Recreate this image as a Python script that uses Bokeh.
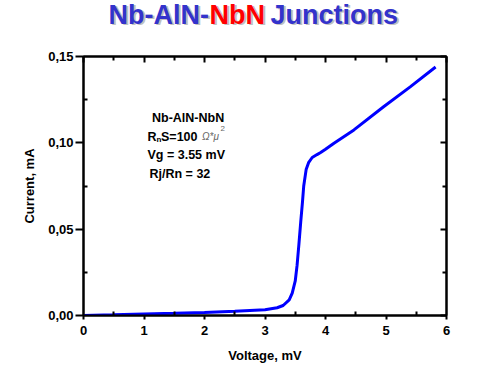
from bokeh.plotting import figure
from bokeh.layouts import column
from bokeh.models import (Range1d, LinearAxis, FixedTicker, CustomJSTickFormatter, Label)
from bokeh.embed import file_html
from bokeh.resources import INLINE

# ---- data ----
voltage = [0, 0.5, 1.0, 1.5, 2.0, 2.5, 3.0, 3.2, 3.3, 3.4, 3.45, 3.5, 3.53, 3.56,
           3.59, 3.62, 3.64, 3.68, 3.72, 3.78, 3.86, 3.92, 4.0, 4.14, 4.47, 4.96, 5.4, 5.82]
current = [0, 0.0004, 0.0009, 0.0013, 0.0018, 0.0024, 0.0033, 0.0045, 0.0058, 0.009,
           0.013, 0.02, 0.029, 0.041, 0.054, 0.066, 0.075, 0.0845, 0.0885, 0.0915,
           0.0932, 0.0944, 0.0963, 0.0998, 0.1075, 0.1209, 0.1324, 0.1439]
x_ticks = [0, 1, 2, 3, 4, 5, 6]
x_minor = [0.5, 1.5, 2.5, 3.5, 4.5, 5.5]
y_ticks = [0, 0.05, 0.10, 0.15]
y_minor = [0.025, 0.075, 0.125]
title_parts = ["Nb-AlN-", "NbN", "Junctions"]
info_lines = ["Nb-AlN-NbN", "Vg = 3.55 mV", "Rj/Rn = 32"]

FONT = "Liberation Sans"
W = 495
L, R = 83, 446

# ---- title strip (x in page pixels) ----
t = figure(width=W, height=48, output_backend="svg", toolbar_location=None,
           x_range=Range1d(L, R), y_range=Range1d(48, 0),
           min_border_left=L, min_border_right=W - R, min_border_top=0, min_border_bottom=0,
           outline_line_color=None)
t.axis.visible = False
t.grid.visible = False
title_x = [108, 209, 270]
title_colors = ["#3333cc", "#ff0000", "#3333cc"]
for txt, x0, col in zip(title_parts, title_x, title_colors):
    t.add_layout(Label(x=x0 + 2, y=15.5, text=txt, text_font=FONT,
                       text_font_style="bold", text_font_size="27px",
                       text_color="#c0c0c0", text_baseline="alphabetic"))
    t.add_layout(Label(x=x0, y=14, text=txt, text_font=FONT,
                       text_font_style="bold", text_font_size="27px",
                       text_color=col, text_baseline="alphabetic"))

# ---- main plot ----
p = figure(width=W, height=365 - 48, output_backend="svg", toolbar_location=None,
           x_range=Range1d(0, 6), y_range=Range1d(0, 0.15),
           min_border_left=L, min_border_right=W - R, min_border_top=8, min_border_bottom=48,
           x_axis_label="Voltage, mV", y_axis_label="Current, mA")
p.xgrid.visible = False
p.ygrid.visible = False
p.outline_line_color = "black"
p.outline_line_width = 2

p.line(voltage, current, line_color="#0000ff", line_width=3)

p.xaxis.ticker = FixedTicker(ticks=x_ticks, minor_ticks=x_minor)
p.yaxis.ticker = FixedTicker(ticks=y_ticks, minor_ticks=y_minor)
p.yaxis.formatter = CustomJSTickFormatter(code="return tick.toFixed(2).replace('.', ',');")
p.xaxis.formatter = CustomJSTickFormatter(code="return tick.toFixed(0);")

for ax in (p.xaxis[0], p.yaxis[0]):
    ax.axis_line_width = 2
    ax.axis_line_color = "black"
    ax.major_tick_line_width = 2
    ax.minor_tick_line_width = 2
    ax.major_tick_line_color = "black"
    ax.minor_tick_line_color = "black"
    ax.major_tick_in = 0
    ax.minor_tick_in = 4
    ax.minor_tick_out = 0
    ax.major_label_text_font = FONT
    ax.major_label_text_font_style = "bold"
    ax.major_label_text_font_size = "13px"
    ax.major_label_text_color = "black"
    ax.axis_label_text_font = FONT
    ax.axis_label_text_font_style = "bold"
    ax.axis_label_text_font_size = "13px"
    ax.axis_label_text_color = "black"
p.xaxis.major_tick_out = 4
p.xaxis.major_label_standoff = 6
p.yaxis.major_tick_out = 8
p.yaxis.major_label_standoff = 2
p.xaxis.axis_label_standoff = 10
p.yaxis.axis_label_standoff = 8

top = LinearAxis(ticker=FixedTicker(ticks=x_ticks, minor_ticks=x_minor))
right = LinearAxis(ticker=FixedTicker(ticks=y_ticks, minor_ticks=y_minor))
for ax in (top, right):
    ax.axis_line_width = 2
    ax.major_tick_line_width = 2
    ax.minor_tick_line_width = 2
    ax.major_tick_line_color = "black"
    ax.minor_tick_line_color = "black"
    ax.major_tick_in = 6
    ax.major_tick_out = 0
    ax.minor_tick_in = 4
    ax.minor_tick_out = 0
    ax.major_label_text_font_size = "0px"
    ax.major_label_text_alpha = 0
    ax.major_label_standoff = 0
p.add_layout(top, "above")
p.add_layout(right, "right")


def px(x):
    return (x - 83) / 60.5


def py(y):
    return (317 - y) / 1740


def lab(txt, x, y, size="12.5px", style="bold", color="black"):
    p.add_layout(Label(x=px(x), y=py(y), text=txt, text_font=FONT, text_font_style=style,
                       text_font_size=size, text_color=color, text_baseline="alphabetic"))


lab(info_lines[0], 151.5, 118)
lab("R", 147, 137)
lab("n", 156, 140, size="8px")
lab("S=100", 160.5, 137)
lab("\u03a9*\u03bc", 201.5, 137, size="10px", style="italic", color="#666666")
lab("2", 220, 129, size="8px", style="normal", color="#666666")
lab(info_lines[1], 147, 155)
lab(info_lines[2], 149, 174)

layout = column(t, p, spacing=0)
open("out.html", "w").write(file_html(layout, INLINE))
